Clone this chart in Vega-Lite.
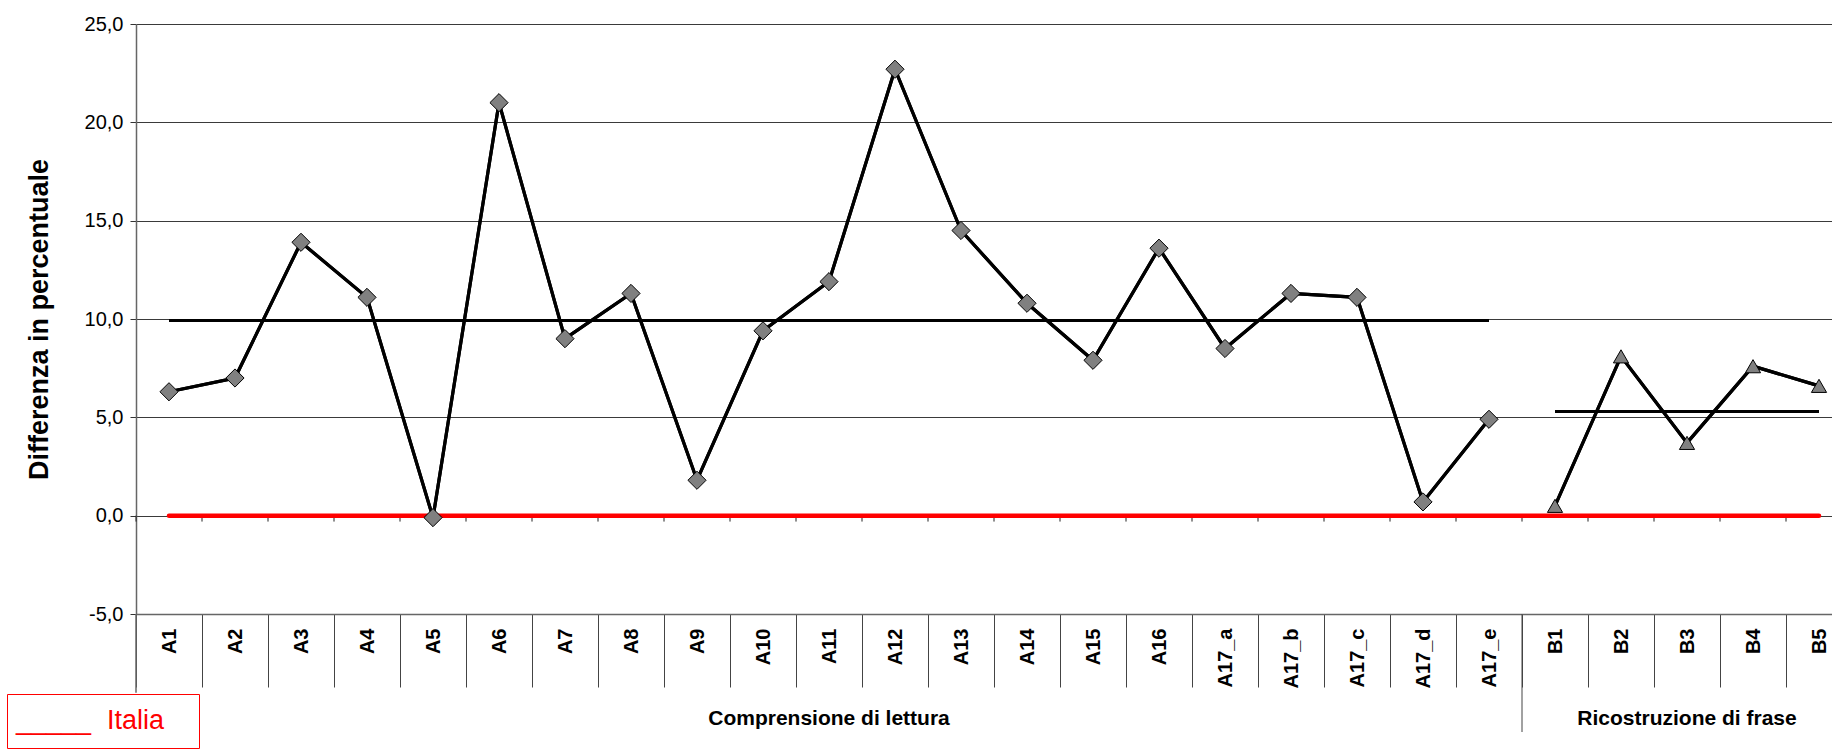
{
  "$schema": "https://vega.github.io/schema/vega-lite/v6.json",
  "autosize": {"type": "none"},
  "padding": {"left": 136, "top": 24, "right": 0, "bottom": 138},
  "width": 1696,
  "height": 590,
  "background": "#ffffff",
  "config": {
    "view": {"stroke": null},
    "font": "Liberation Sans",
    "axis": {"labelFont": "Liberation Sans", "titleFont": "Liberation Sans", "labelColor": "#000000", "titleColor": "#000000"}
  },
  "datasets": {
    "punti": [
      {"cat": "A1", "gruppo": "A", "valore": 6.3},
      {"cat": "A2", "gruppo": "A", "valore": 7.0},
      {"cat": "A3", "gruppo": "A", "valore": 13.9},
      {"cat": "A4", "gruppo": "A", "valore": 11.1},
      {"cat": "A5", "gruppo": "A", "valore": -0.1},
      {"cat": "A6", "gruppo": "A", "valore": 21.0},
      {"cat": "A7", "gruppo": "A", "valore": 9.0},
      {"cat": "A8", "gruppo": "A", "valore": 11.3},
      {"cat": "A9", "gruppo": "A", "valore": 1.8},
      {"cat": "A10", "gruppo": "A", "valore": 9.4},
      {"cat": "A11", "gruppo": "A", "valore": 11.9},
      {"cat": "A12", "gruppo": "A", "valore": 22.7},
      {"cat": "A13", "gruppo": "A", "valore": 14.5},
      {"cat": "A14", "gruppo": "A", "valore": 10.8},
      {"cat": "A15", "gruppo": "A", "valore": 7.9},
      {"cat": "A16", "gruppo": "A", "valore": 13.6},
      {"cat": "A17_a", "gruppo": "A", "valore": 8.5},
      {"cat": "A17_b", "gruppo": "A", "valore": 11.3},
      {"cat": "A17_c", "gruppo": "A", "valore": 11.1},
      {"cat": "A17_d", "gruppo": "A", "valore": 0.7},
      {"cat": "A17_e", "gruppo": "A", "valore": 4.9},
      {"cat": "B1", "gruppo": "B", "valore": 0.5},
      {"cat": "B2", "gruppo": "B", "valore": 8.1},
      {"cat": "B3", "gruppo": "B", "valore": 3.7},
      {"cat": "B4", "gruppo": "B", "valore": 7.6},
      {"cat": "B5", "gruppo": "B", "valore": 6.6}
    ],
    "medie": [
      {"inizio": "A1", "fine": "A17_e", "media": 9.93},
      {"inizio": "B1", "fine": "B5", "media": 5.3}
    ],
    "italia": [
      {"inizio": "A1", "fine": "B5", "valore": 0, "serie": "Italia"}
    ],
    "gruppi": [
      {"centro": "A11", "primo": "A1", "etichetta": "Comprensione di lettura"},
      {"centro": "B3", "primo": "B1", "etichetta": "Ricostruzione di frase"}
    ]
  },
  "layer": [
    {
      "data": {"name": "punti"},
      "mark": {"type": "line", "color": "#000000", "strokeWidth": 3.2},
      "encoding": {
        "x": {"field": "cat", "type": "nominal",
          "scale": {"domain": ["A1","A2","A3","A4","A5","A6","A7","A8","A9","A10","A11","A12","A13","A14","A15","A16","A17_a","A17_b","A17_c","A17_d","A17_e","B1","B2","B3","B4","B5"], "range": [0, 1716], "paddingInner": 0, "paddingOuter": 0},
          "axis": {
            "title": null,
            "orient": "bottom",
            "tickBand": "extent",
            "tickSize": 73,
            "tickColor": "#444444",
            "tickWidth": 1,
            "domainColor": "#666666",
            "domainWidth": 1.5,
            "labelAngle": -90,
            "labelPadding": -59,
            "labelFontSize": 20,
            "labelFontWeight": "bold",
            "labelOverlap": false,
            "labelFlush": false,
            "labelBound": false,
            "grid": false
          }
        },
        "y": {"field": "valore", "type": "quantitative",
          "scale": {"domain": [-5, 25], "nice": false, "zero": false},
          "axis": {
            "title": "Differenza in percentuale",
            "titleFontSize": 27,
            "titleFontWeight": "bold",
            "titlePadding": 31,
            "values": [-5, 0, 5, 10, 15, 20, 25],
            "labelExpr": "replace(replace(format(datum.value, '.1f'), '.', ','), '−', '-')",
            "labelFontSize": 20,
            "labelPadding": 7,
            "tickSize": 6,
            "tickColor": "#333333",
            "domainColor": "#666666",
            "domainWidth": 1.5,
            "grid": true,
            "gridColor": "#3a3a3a",
            "gridWidth": 1
          }
        },
        "detail": {"field": "gruppo"}
      }
    },
    {
      "data": {"name": "punti"},
      "mark": {"type": "rule", "color": "#222222", "strokeWidth": 1},
      "encoding": {
        "x": {"field": "cat", "type": "nominal", "bandPosition": 0},
        "y": {"datum": 0, "type": "quantitative"},
        "y2": {"datum": -0.3}
      }
    },
    {
      "data": {"name": "gruppi"},
      "transform": [{"filter": "datum.primo === 'B1'"}],
      "mark": {"type": "rule", "color": "#444444", "strokeWidth": 1},
      "encoding": {
        "x": {"field": "primo", "type": "nominal", "bandPosition": 0},
        "y": {"datum": -5, "type": "quantitative"},
        "y2": {"datum": -11}
      }
    },
    {
      "data": {"name": "gruppi"},
      "transform": [{"filter": "datum.primo === 'A1'"}],
      "mark": {"type": "rule", "color": "#666666", "strokeWidth": 1.5},
      "encoding": {
        "x": {"field": "primo", "type": "nominal", "bandPosition": 0},
        "y": {"datum": -5, "type": "quantitative"},
        "y2": {"datum": -9}
      }
    },
    {
      "data": {"name": "gruppi"},
      "mark": {"type": "text", "font": "Liberation Sans", "fontSize": 21, "fontWeight": "bold", "color": "#000000", "baseline": "alphabetic", "align": "center"},
      "encoding": {
        "x": {"field": "centro", "type": "nominal"},
        "y": {"datum": -10.64, "type": "quantitative"},
        "text": {"field": "etichetta"}
      }
    },
    {
      "data": {"name": "italia"},
      "mark": {"type": "rule", "strokeWidth": 4.5, "strokeCap": "round"},
      "encoding": {
        "x": {"field": "inizio", "type": "nominal", "bandPosition": 0.5},
        "x2": {"field": "fine", "bandPosition": 0.5},
        "y": {"field": "valore", "type": "quantitative"},
        "color": {"field": "serie", "type": "nominal",
          "scale": {"domain": ["Italia"], "range": ["#ff0000"]},
          "legend": {
            "orient": "none",
            "legendX": -129,
            "legendY": 670,
            "title": "_____",
            "titleOrient": "left",
            "titleFontSize": 27,
            "titleFontWeight": "normal",
            "titleFont": "Liberation Sans",
            "titleColor": "#ff0000",
            "titleBaseline": "middle",
            "titlePadding": 0,
            "symbolType": "square",
            "symbolSize": 1296,
            "symbolOpacity": 0,
            "symbolStrokeWidth": 0,
            "symbolOffset": 62,
            "labelFontSize": 27,
            "labelFont": "Liberation Sans",
            "labelColor": "#ff0000",
            "labelBaseline": "middle",
            "labelOffset": -83,
            "labelLimit": 500,
            "strokeColor": "#ff0000",
            "fillColor": "#ffffff",
            "padding": 9
          }
        }
      }
    },
    {
      "data": {"name": "medie"},
      "mark": {"type": "rule", "color": "#000000", "strokeWidth": 3},
      "encoding": {
        "x": {"field": "inizio", "type": "nominal", "bandPosition": 0.5},
        "x2": {"field": "fine", "bandPosition": 0.5},
        "y": {"field": "media", "type": "quantitative"}
      }
    },
    {
      "data": {"name": "punti"},
      "mark": {"type": "line", "color": "#000000", "strokeWidth": 3.2},
      "encoding": {
        "x": {"field": "cat", "type": "nominal"},
        "y": {"field": "valore", "type": "quantitative"},
        "detail": {"field": "gruppo"}
      }
    },
    {
      "data": {"name": "punti"},
      "mark": {"type": "point", "filled": true, "fill": "#808080", "stroke": "#000000", "strokeWidth": 1, "opacity": 1},
      "encoding": {
        "x": {"field": "cat", "type": "nominal"},
        "y": {"field": "valore", "type": "quantitative"},
        "shape": {"field": "gruppo", "type": "nominal", "scale": {"domain": ["A", "B"], "range": ["diamond", "triangle-up"]}, "legend": null},
        "size": {"field": "gruppo", "type": "nominal", "scale": {"domain": ["A", "B"], "range": [330, 230]}, "legend": null}
      }
    }
  ]
}
